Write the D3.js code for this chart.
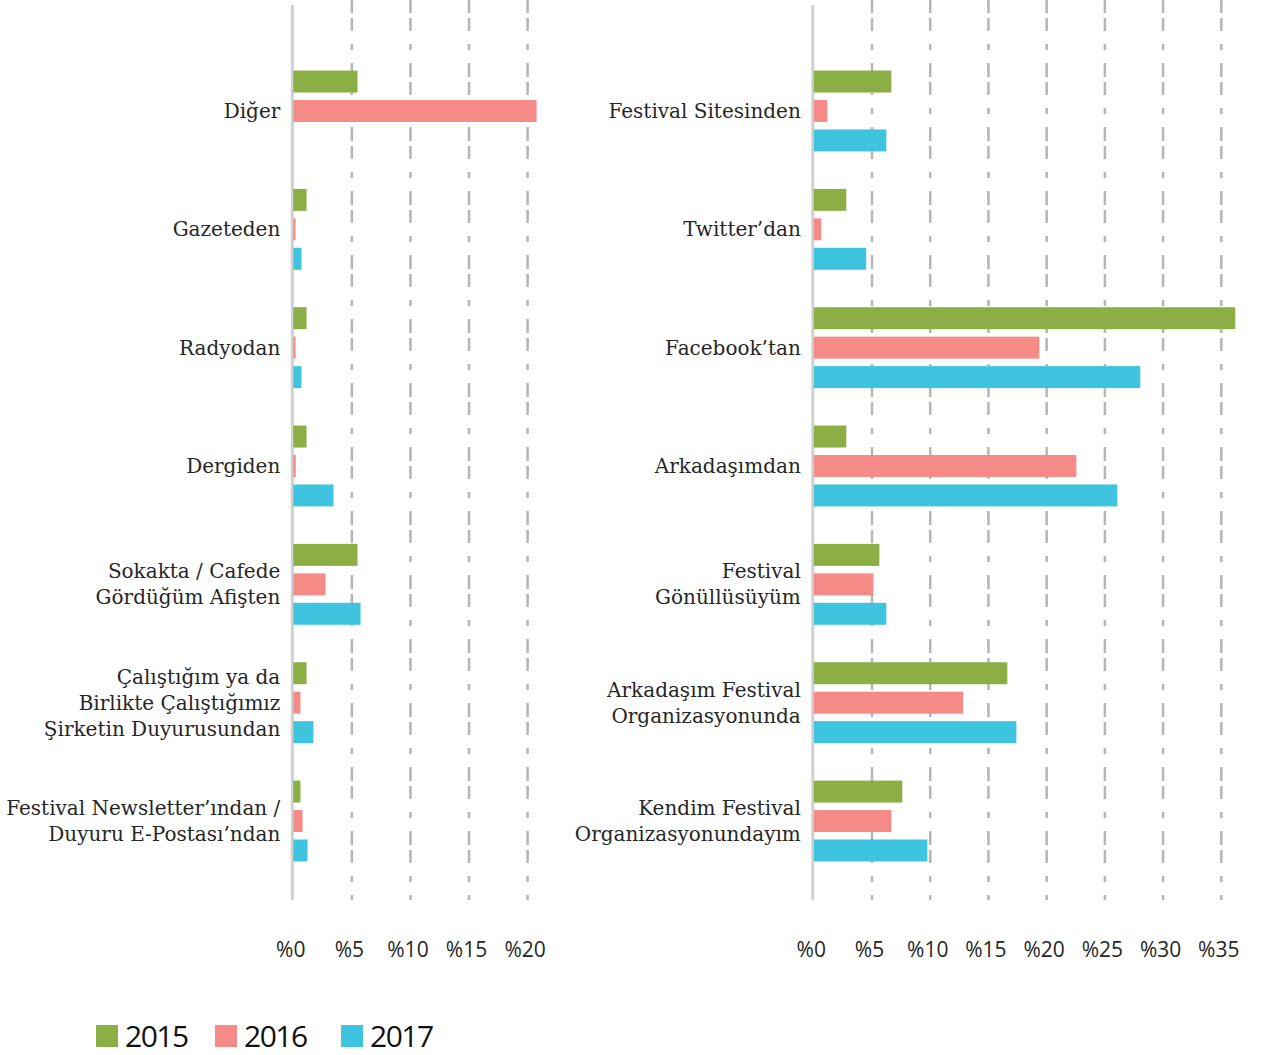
<!DOCTYPE html>
<html>
<head>
<meta charset="utf-8">
<script src="https://cdn.jsdelivr.net/npm/d3@7"></script>
<style>
  html, body { margin: 0; padding: 0; background: #fff; }
  svg { display: block; }
</style>
</head>
<body>
<svg id="chart" width="1262" height="1055"></svg>
<script>
// ---------- DATA ----------
const years = ["2015", "2016", "2017"];
const colors = ["#8BAF45", "#F68A87", "#3EC4DF"];

const leftCategories = [
  "Diğer",
  "Gazeteden",
  "Radyodan",
  "Dergiden",
  "Sokakta / Cafede\nGördüğüm Afişten",
  "Çalıştığım ya da\nBirlikte Çalıştığımız\nŞirketin Duyurusundan",
  "Festival Newsletter’ından /\nDuyuru E-Postası’ndan"
];
const left2015 = [5.48, 1.13, 1.13, 1.13, 5.48, 1.13, 0.61];
const left2016 = [20.77, 0.19, 0.19, 0.21, 2.75, 0.61, 0.79];
const left2017 = [0, 0.70, 0.70, 3.43, 5.74, 1.72, 1.21];
const leftTicks = [0, 5, 10, 15, 20];

const rightCategories = [
  "Festival Sitesinden",
  "Twitter’dan",
  "Facebook’tan",
  "Arkadaşımdan",
  "Festival\nGönüllüsüyüm",
  "Arkadaşım Festival\nOrganizasyonunda",
  "Kendim Festival\nOrganizasyonundayım"
];
const right2015 = [6.66, 2.79, 36.2, 2.79, 5.63, 16.62, 7.6];
const right2016 = [1.16, 0.64, 19.37, 22.55, 5.11, 12.83, 6.66];
const right2017 = [6.23, 4.5, 28.04, 26.07, 6.23, 17.4, 9.75];
const rightTicks = [0, 5, 10, 15, 20, 25, 30, 35];

// ---------- DRAW ----------
const svg = d3.select("#chart");
const gridTop = 0, gridBottom = 900;

function panel(cfg) {
  const g = svg.append("g");
  const x = d3.scaleLinear().domain(cfg.domain).range(cfg.range);
  const y = d3.scaleBand().domain(cfg.categories).range([51.8, 880.2]).paddingInner(0).paddingOuter(0);
  const ySub = d3.scaleBand().domain(years).range([0, y.bandwidth()])
    .paddingInner(0.254).paddingOuter(0.636);

  // gridlines
  g.selectAll("line.grid").data(cfg.ticks.filter(t => t > 0)).join("line")
    .attr("class", "grid")
    .attr("x1", d => x(d)).attr("x2", d => x(d))
    .attr("y1", gridTop).attr("y2", gridBottom)
    .attr("stroke", "#b5b5b5").attr("stroke-width", 2.5)
    .attr("stroke-dasharray", "14,5,13,13,6,13")
    .attr("stroke-dashoffset", 1);

  // zero axis line
  g.append("line")
    .attr("x1", x(0) - 1).attr("x2", x(0) - 1)
    .attr("y1", 5).attr("y2", gridBottom)
    .attr("stroke", "#d0d0d0").attr("stroke-width", 3);

  // bars
  const series = [cfg.s2015, cfg.s2016, cfg.s2017];
  const rows = [];
  cfg.categories.forEach((c, i) => {
    years.forEach((yr, j) => {
      rows.push({ cat: c, year: yr, j: j, v: series[j][i] });
    });
  });
  g.selectAll("rect.bar").data(rows.filter(r => r.v > 0)).join("rect")
    .attr("class", "bar")
    .attr("x", x(0))
    .attr("y", d => y(d.cat) + ySub(d.year))
    .attr("width", d => x(d.v) - x(0))
    .attr("height", ySub.bandwidth())
    .attr("fill", d => colors[d.j]);

  // category labels
  const labels = g.selectAll("text.cat").data(cfg.categories).join("text")
    .attr("class", "cat")
    .attr("text-anchor", "end")
    .attr("font-family", "'DejaVu Serif', serif")
    .attr("font-size", 20)
    .attr("fill", "#262626");
  labels.each(function (d) {
    const lines = d.split("\n");
    const cy = y(d) + y.bandwidth() / 2;
    const lh = 26;
    const t = d3.select(this);
    lines.forEach((ln, k) => {
      t.append("tspan")
        .attr("x", x(0) - 13)
        .attr("y", cy + 7 + (k - (lines.length - 1) / 2) * lh)
        .text(ln);
    });
  });

  // x axis tick labels
  const axis = d3.axisBottom(x).tickValues(cfg.ticks).tickSize(0).tickPadding(0)
    .tickFormat(d => "%" + d);
  const ag = g.append("g").attr("transform", "translate(0,957)").call(axis);
  ag.select(".domain").remove();
  ag.selectAll("text")
    .attr("dy", 0)
    .attr("dx", -3)
    .attr("font-family", "'Open Sans', sans-serif")
    .attr("font-size", 21)
    .attr("fill", "#262626");
}

panel({
  categories: leftCategories, s2015: left2015, s2016: left2016, s2017: left2017,
  ticks: leftTicks, domain: [0, 20], range: [293.3, 527.6]
});
panel({
  categories: rightCategories, s2015: right2015, s2016: right2016, s2017: right2017,
  ticks: rightTicks, domain: [0, 35], range: [813.8, 1221.3]
});

// legend
const legendX = [96, 215, 341];
const lg = svg.append("g");
years.forEach((yr, i) => {
  lg.append("rect").attr("x", legendX[i]).attr("y", 1025).attr("width", 22).attr("height", 22)
    .attr("fill", colors[i]);
  lg.append("text").attr("x", legendX[i] + 29).attr("y", 1047)
    .attr("font-family", "'Open Sans', sans-serif")
    .attr("font-size", 30)
    .attr("letter-spacing", "-1.5px")
    .attr("fill", "#111")
    .text(yr);
});
</script>
</body>
</html>
